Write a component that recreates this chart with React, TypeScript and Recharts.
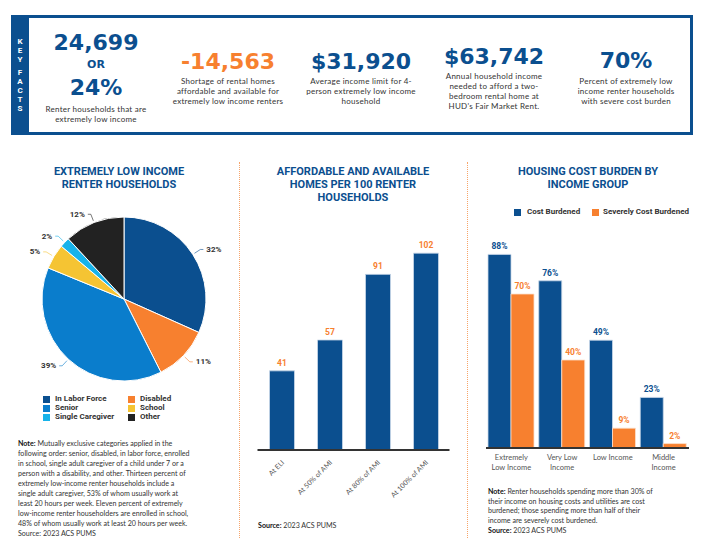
import React from "react";
import { PieChart, Pie, Cell, BarChart, Bar, XAxis, YAxis, LabelList } from "recharts";

// colours
const BLUE = "#0b4f8f";
const ORANGE = "#f7802f";
const TEXT = "#333333";
const BODY = "Lato, sans-serif";
const HEAD = "Roboto, sans-serif";
const BIG = "'DejaVu Sans', sans-serif";

// pie: extremely low income renter households
const pieNames = ["In Labor Force", "Disabled", "Senior", "School", "Single Caregiver", "Other"];
const pieValues = [32, 11, 39, 5, 2, 12];
const pieColors = ["#0b4f8f", "#f7802f", "#0a7dcc", "#f5c433", "#17b3ea", "#222222"];

// affordable and available homes per 100 renter households
const homesCategories = ["At ELI", "At 50% of AMI", "At 80% of AMI", "At 100% of AMI"];
const homesValues = [41, 57, 91, 102];

// housing cost burden by income group
const burdenCategories = ["Extremely Low Income", "Very Low Income", "Low Income", "Middle Income"];
const burdenTickLines = [["Extremely", "Low Income"], ["Very Low", "Income"], ["Low Income"], ["Middle", "Income"]];
const costBurdened = [88, 76, 49, 23];
const severelyBurdened = [70, 40, 9, 2];

const pieData = pieNames.map((name, i) => ({ name, value: pieValues[i] }));
const homesData = homesCategories.map((name, i) => ({ name, value: homesValues[i] }));
const burdenData = burdenCategories.map((name, i) => ({
    name,
    lines: burdenTickLines[i],
    cost: costBurdened[i],
    severe: severelyBurdened[i],
}));

type LineProps = {
    x: number;
    y: number;
    size?: number;
    anchor?: "middle" | "start";
    color?: string;
    weight?: number;
    family?: string;
    spacing?: number;
    children: React.ReactNode;
};

// one line of text, y is the visual middle of the line
function Line({ x, y, size = 8, anchor = "middle", color = TEXT, weight = 400, family = BODY, spacing = 0, children }: LineProps) {
    const lh = size * 1.25;
    const base: React.CSSProperties = {
        position: "absolute",
        top: y - lh / 2,
        fontSize: size,
        lineHeight: `${lh}px`,
        color,
        fontWeight: weight,
        fontFamily: family,
        letterSpacing: spacing,
        whiteSpace: "nowrap",
    };
    const pos: React.CSSProperties =
        anchor === "middle" ? { left: x - 150, width: 300, textAlign: "center" } : { left: x };
    return <div style={{ ...base, ...pos }}>{children}</div>;
}

// key fact caption line
const Cap = ({ x, y, children }: { x: number; y: number; children: React.ReactNode }) => (
    <Line x={x} y={y} size={8} spacing={0.25}>
        {children}
    </Line>
);

const RAD = Math.PI / 180;

const renderPieLabel = (props: any) => {
    const { cx, cy, midAngle, outerRadius, value, fill } = props;
    const cos = Math.cos(-midAngle * RAD);
    const sin = Math.sin(-midAngle * RAD);
    const x1 = cx + (outerRadius + 2) * cos;
    const y1 = cy + (outerRadius + 2) * sin;
    const x2 = cx + (outerRadius + 9) * cos;
    const y2 = cy + (outerRadius + 9) * sin;
    const x3 = x2 + (cos >= 0 ? 3 : -3);
    const right = cos >= 0;
    return (
        <g>
            <path d={`M${x1},${y1} L${x2},${y2} L${x3},${y2}`} stroke={fill} strokeOpacity={0.6} fill="none" />
            <text
                x={x3 + (right ? 3 : -3)}
                y={y2}
                textAnchor={right ? "start" : "end"}
                dominantBaseline="central"
                fontSize={8}
                fontWeight={700}
                fontFamily={HEAD}
                fill={TEXT}
            >
                {value}%
            </text>
        </g>
    );
};

const HomesTick = (props: any) => {
    const { x, y, payload } = props;
    return (
        <text
            transform={`translate(${x + 1},${y + 3}) rotate(-45)`}
            textAnchor="end"
            dominantBaseline="central"
            fontSize={7}
            fontFamily={BODY}
            fill="#555"
        >
            {payload.value}
        </text>
    );
};

const BurdenTick = (props: any) => {
    const { x, y, index } = props;
    const lines = burdenData[index].lines;
    return (
        <text x={x} y={y + 4} textAnchor="middle" fontSize={7.5} fontFamily={BODY} fill="#555">
            {lines.map((l: string, i: number) => (
                <tspan key={l} x={x} dy={i === 0 ? 0 : 9.5}>
                    {l}
                </tspan>
            ))}
        </text>
    );
};

const Swatch = ({ x, y, color }: { x: number; y: number; color: string }) => (
    <div style={{ position: "absolute", left: x, top: y - 3.5, width: 7, height: 7, background: color }} />
);

const leftNote = [
    "following order: senior, disabled, in labor force, enrolled",
    "in school, single adult caregiver of a child under 7 or a",
    "person with a disability, and other. Thirteen percent of",
    "extremely low-income renter households include a",
    "single adult caregiver, 53% of whom usually work at",
    "least 20 hours per week. Eleven percent of extremely",
    "low-income renter householders are enrolled in school,",
    "48% of whom usually work at least 20 hours per week.",
];

const rightNote = [
    "their income on housing costs and utilities are cost",
    "burdened; those spending more than half of their",
    "income are severely cost burdened.",
];

const NOTE = 7.1;

export default function App() {
    return (
        <div
            style={{
                position: "absolute",
                left: 0,
                top: 0,
                width: 709,
                height: 548,
                background: "#fff",
                overflow: "hidden",
                fontFamily: BODY,
            }}
        >
            {/* Key facts box */}
            <div
                style={{
                    position: "absolute",
                    left: 11,
                    top: 15,
                    width: 682 - 6,
                    height: 120 - 6,
                    border: `3px solid ${BLUE}`,
                }}
            />
            <div style={{ position: "absolute", left: 11, top: 15, width: 18, height: 120, background: BLUE }} />
            {["K", "E", "Y"].map((c, i) => (
                <Line key={"k" + i} x={20} y={42 + i * 9} size={8} color="#fff" weight={700} family={HEAD}>
                    {c}
                </Line>
            ))}
            {["F", "A", "C", "T", "S"].map((c, i) => (
                <Line key={"f" + i} x={20} y={73 + i * 9} size={8} color="#fff" weight={700} family={HEAD}>
                    {c}
                </Line>
            ))}

            <Line x={96} y={43} size={22} color={BLUE} weight={700} family={BIG}>24,699</Line>
            <Line x={96} y={65} size={11} color={BLUE} weight={700} family={BIG}>OR</Line>
            <Line x={96} y={88} size={22} color={BLUE} weight={700} family={BIG}>24%</Line>
            <Cap x={96} y={109}>Renter households that are</Cap>
            <Cap x={96} y={119}>extremely low income</Cap>

            <Line x={228} y={62} size={22} color={ORANGE} weight={700} family={BIG}>-14,563</Line>
            <Cap x={228} y={81}>Shortage of rental homes</Cap>
            <Cap x={228} y={91}>affordable and available for</Cap>
            <Cap x={228} y={101}>extremely low income renters</Cap>

            <Line x={361} y={62} size={22} color={BLUE} weight={700} family={BIG}>$31,920</Line>
            <Cap x={361} y={81}>Average income limit for 4-</Cap>
            <Cap x={361} y={91}>person extremely low income</Cap>
            <Cap x={361} y={101}>household</Cap>

            <Line x={494} y={57} size={22} color={BLUE} weight={700} family={BIG}>$63,742</Line>
            <Cap x={494} y={76}>Annual household income</Cap>
            <Cap x={494} y={86}>needed to afford a two-</Cap>
            <Cap x={494} y={96}>bedroom rental home at</Cap>
            <Cap x={494} y={106}>HUD's Fair Market Rent.</Cap>

            <Line x={626} y={61} size={22} color={BLUE} weight={700} family={BIG}>70%</Line>
            <Cap x={626} y={81}>Percent of extremely low</Cap>
            <Cap x={626} y={91}>income renter households</Cap>
            <Cap x={626} y={101}>with severe cost burden</Cap>

            {/* dotted dividers */}
            <div style={{ position: "absolute", left: 239, top: 162, height: 376, borderLeft: "1px dotted #f7a56a" }} />
            <div style={{ position: "absolute", left: 467, top: 162, height: 376, borderLeft: "1px dotted #f7a56a" }} />

            {/* Left panel: pie */}
            <Line x={119} y={172} size={11} color={BLUE} weight={700} family={HEAD}>EXTREMELY LOW INCOME</Line>
            <Line x={119} y={185} size={11} color={BLUE} weight={700} family={HEAD}>RENTER HOUSEHOLDS</Line>
            <div style={{ position: "absolute", left: 0, top: 200 }}>
                <PieChart width={240} height={190}>
                    <Pie
                        data={pieData}
                        dataKey="value"
                        nameKey="name"
                        cx={119}
                        cy={94}
                        outerRadius={82}
                        startAngle={90}
                        endAngle={-270}
                        stroke="#fff"
                        strokeWidth={1}
                        label={renderPieLabel}
                        labelLine={false}
                        isAnimationActive={false}
                    >
                        {pieData.map((d, i) => (
                            <Cell key={d.name} fill={pieColors[i]} />
                        ))}
                    </Pie>
                </PieChart>
            </div>
            {pieNames.map((name, i) => {
                const col = i % 2;
                const row = Math.floor(i / 2);
                const y = 399 + row * 9;
                const sx = col === 0 ? 43 : 128;
                return (
                    <React.Fragment key={name}>
                        <Swatch x={sx} y={y} color={pieColors[i]} />
                        <Line x={sx + 12} y={y} anchor="start" size={8} weight={700} family={HEAD} color={TEXT}>
                            {name}
                        </Line>
                    </React.Fragment>
                );
            })}
            <Line x={18} y={444} anchor="start" size={NOTE}>
                <b style={{ color: "#111" }}>Note:</b> Mutually exclusive categories applied in the
            </Line>
            {leftNote.map((t, i) => (
                <Line key={i} x={18} y={454 + i * 10.08} anchor="start" size={NOTE}>
                    {t}
                </Line>
            ))}
            <Line x={18} y={534.7} anchor="start" size={NOTE}>Source: 2023 ACS PUMS</Line>

            {/* Middle panel */}
            <Line x={353} y={172} size={11} color={BLUE} weight={700} family={HEAD}>AFFORDABLE AND AVAILABLE</Line>
            <Line x={353} y={185} size={11} color={BLUE} weight={700} family={HEAD}>HOMES PER 100 RENTER</Line>
            <Line x={353} y={198} size={11} color={BLUE} weight={700} family={HEAD}>HOUSEHOLDS</Line>
            <div style={{ position: "absolute", left: 240, top: 200 }}>
                <BarChart
                    width={230}
                    height={300}
                    data={homesData}
                    margin={{ top: 18.4, right: 20.5, bottom: 0, left: 17.5 }}
                    barSize={25}
                >
                    <XAxis
                        dataKey="name"
                        height={50}
                        interval={0}
                        tickLine={false}
                        axisLine={{ stroke: "#333", strokeWidth: 2 }}
                        tick={<HomesTick />}
                    />
                    <YAxis hide domain={[0, 120]} />
                    <Bar dataKey="value" fill={BLUE} stroke="#c9d8e8" strokeWidth={0.8} isAnimationActive={false}>
                        <LabelList
                            dataKey="value"
                            position="top"
                            offset={5}
                            fill={ORANGE}
                            stroke="none"
                            fontSize={8.5}
                            fontWeight={700}
                            fontFamily={HEAD}
                        />
                    </Bar>
                </BarChart>
            </div>
            <Line x={258} y={526} anchor="start" size={NOTE}>
                <b style={{ color: "#111" }}>Source:</b> 2023 ACS PUMS
            </Line>

            {/* Right panel */}
            <Line x={588} y={172} size={11} color={BLUE} weight={700} family={HEAD}>HOUSING COST BURDEN BY</Line>
            <Line x={588} y={185} size={11} color={BLUE} weight={700} family={HEAD}>INCOME GROUP</Line>
            <Swatch x={514} y={212} color={BLUE} />
            <Line x={527} y={212} anchor="start" size={8} weight={700} family={HEAD}>Cost Burdened</Line>
            <Swatch x={592} y={212} color={ORANGE} />
            <Line x={603} y={212} anchor="start" size={8} weight={700} family={HEAD}>Severely Cost Burdened</Line>
            <div style={{ position: "absolute", left: 470, top: 200 }}>
                <BarChart
                    width={239}
                    height={300}
                    data={burdenData}
                    margin={{ top: 28, right: 20, bottom: 0, left: 16 }}
                    barGap={0}
                    barSize={23}
                >
                    <XAxis
                        dataKey="name"
                        height={52}
                        interval={0}
                        tickLine={false}
                        axisLine={{ stroke: "#333", strokeWidth: 2 }}
                        tick={<BurdenTick />}
                    />
                    <YAxis hide domain={[0, 100]} />
                    <Bar dataKey="cost" fill={BLUE} stroke="#c9d8e8" strokeWidth={0.8} isAnimationActive={false}>
                        <LabelList
                            dataKey="cost"
                            position="top"
                            offset={5}
                            fill={BLUE}
                            stroke="none"
                            fontSize={8.5}
                            fontWeight={700}
                            fontFamily={HEAD}
                            formatter={(v: any) => `${v}%`}
                        />
                    </Bar>
                    <Bar dataKey="severe" fill={ORANGE} stroke="#fde0cc" strokeWidth={0.8} isAnimationActive={false}>
                        <LabelList
                            dataKey="severe"
                            position="top"
                            offset={5}
                            fill={ORANGE}
                            stroke="none"
                            fontSize={8.5}
                            fontWeight={700}
                            fontFamily={HEAD}
                            formatter={(v: any) => `${v}%`}
                        />
                    </Bar>
                </BarChart>
            </div>
            <Line x={488} y={492} anchor="start" size={NOTE}>
                <b style={{ color: "#111" }}>Note:</b> Renter households spending more than 30% of
            </Line>
            {rightNote.map((t, i) => (
                <Line key={i} x={488} y={502 + i * 9.6} anchor="start" size={NOTE}>
                    {t}
                </Line>
            ))}
            <Line x={488} y={531} anchor="start" size={NOTE}>
                <b style={{ color: "#111" }}>Source:</b> 2023 ACS PUMS
            </Line>
        </div>
    );
}
